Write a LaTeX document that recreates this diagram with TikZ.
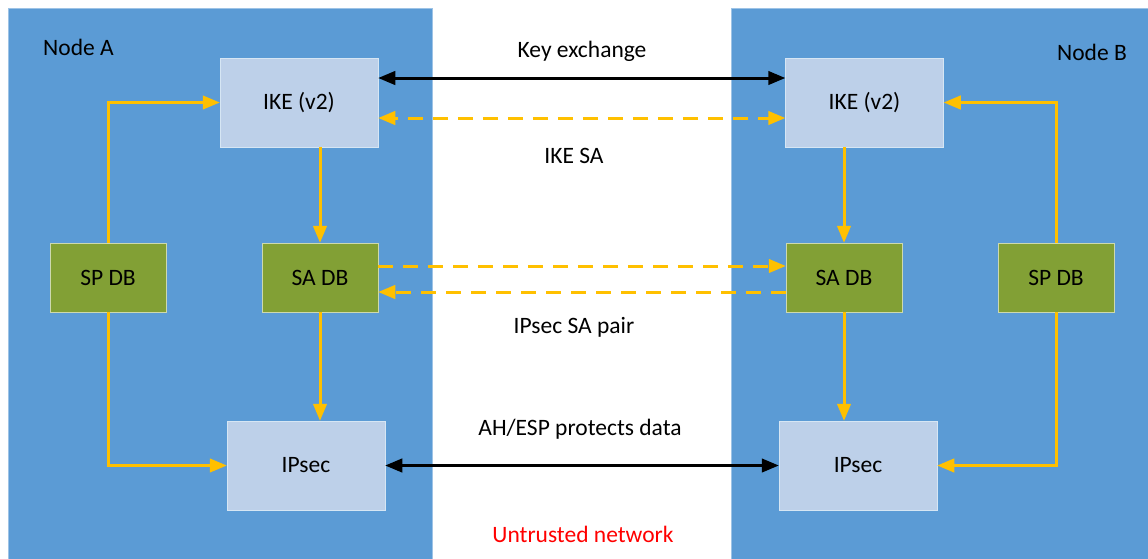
\documentclass[tikz,border=0pt]{standalone}
\usepackage{fontspec}
\setmainfont{Carlito}
\usetikzlibrary{arrows}

\definecolor{panelblue}{HTML}{5B9BD5}
\definecolor{boxblue}{HTML}{BDD0E9}
\definecolor{dbgreen}{HTML}{82A035}
\definecolor{saorange}{HTML}{FFC000}
\definecolor{netred}{HTML}{FF0000}

\begin{document}
\begin{tikzpicture}[x=1pt,y=-1pt]
\tikzstyle{every node}=[font=\fontsize{23.5}{27}\selectfont, inner sep=0pt]
\tikzstyle{ikebox}=[rectangle, draw=white!75!panelblue, line width=0.8pt, fill=boxblue, minimum width=158pt, minimum height=89pt]
\tikzstyle{dbbox}=[rectangle, draw=white!60!dbgreen, line width=0.8pt, fill=dbgreen, minimum width=116pt, minimum height=69pt]
\tikzstyle{flow}=[saorange, line width=3pt, -triangle 45]
\tikzstyle{sadash}=[flow, dash pattern=on 15pt off 10pt]
\tikzstyle{keyline}=[black, line width=3pt, triangle 45-triangle 45]
\useasboundingbox (0,0) rectangle (1148,558);
% the two hosts
\draw[fill=panelblue, draw=white!40!panelblue, line width=0.8pt] (8,8) rectangle (432,560);
\draw[fill=panelblue, draw=white!40!panelblue, line width=0.8pt] (731,8) rectangle (1150,560);
\node[anchor=west] (nodeA) at (43,47) {Node A};
\node[anchor=east] (nodeB) at (1127,52) {Node B};
% node A
\node[ikebox] (ikeA) at (299,102.5) {IKE (v2)};
\node[dbbox] (spdbA) at (108,277.5) {SP DB};
\node[dbbox] (sadbA) at (320,277.5) {SA DB};
\node[ikebox] (ipsecA) at (306,465.5) {IPsec};
% node B
\node[ikebox] (ikeB) at (864.5,102.5) {IKE (v2)};
\node[dbbox] (sadbB) at (844,277.5) {SA DB};
\node[dbbox] (spdbB) at (1056,277.5) {SP DB};
\node[ikebox] (ipsecB) at (858,465.5) {IPsec};
% labels in the middle
\node (keylbl) at (582,51) {Key exchange};
\node (ikesalbl) at (574,156) {IKE SA};
\node (salbl) at (574,327) {IPsec SA pair};
\node (ahlbl) at (580,429) {AH/ESP protects data};
\node[text=netred] (untrusted) at (583,534) {Untrusted network};
% inside the hosts
\draw[flow] (spdbA.north) |- (ikeA.west);
\draw[flow] (spdbA.south) |- (ipsecA.west);
\draw[flow] (spdbB.north) |- (ikeB.east);
\draw[flow] (spdbB.south) |- (ipsecB.east);
\draw[flow] (ikeA.south -| sadbA.north) -- (sadbA.north);
\draw[flow] (sadbA.south) -- (sadbA.south |- ipsecA.north);
\draw[flow] (ikeB.south -| sadbB.north) -- (sadbB.north);
\draw[flow] (sadbB.south) -- (sadbB.south |- ipsecB.north);
% between the hosts
\draw[keyline] ([yshift=24.5pt]ikeA.east) -- ([yshift=24.5pt]ikeB.west);
\draw[sadash, triangle 45-triangle 45] ([yshift=-15.5pt]ikeA.east) -- ([yshift=-15.5pt]ikeB.west);
\draw[sadash] ([yshift=11.5pt]sadbA.east) -- ([yshift=11.5pt]sadbB.west);
\draw[sadash] ([yshift=-14.5pt]sadbB.west) -- ([yshift=-14.5pt]sadbA.east);
\draw[keyline] (ipsecA.east) -- (ipsecB.west);
\end{tikzpicture}
\end{document}
